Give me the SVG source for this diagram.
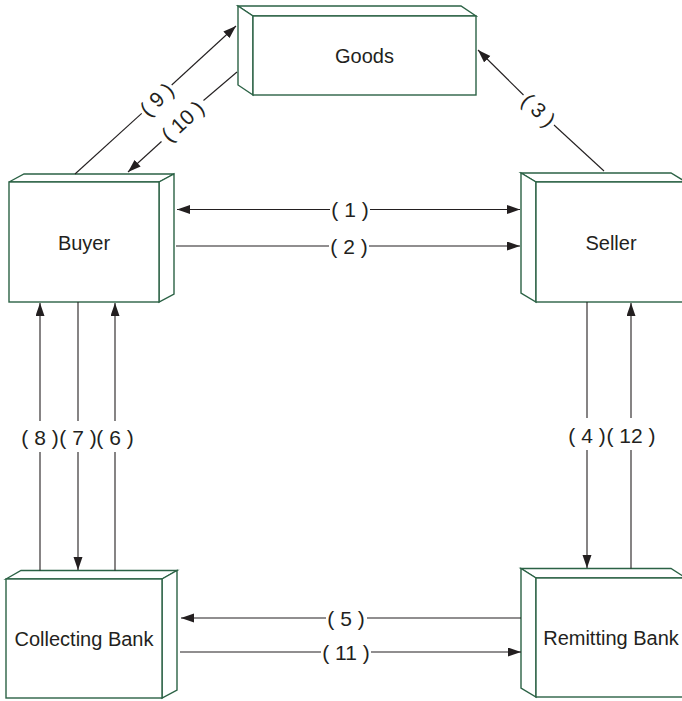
<svg xmlns="http://www.w3.org/2000/svg" width="682" height="701" viewBox="0 0 682 701">
  <defs>
    <marker id="arrow" markerUnits="userSpaceOnUse" markerWidth="14" markerHeight="10" refX="13" refY="4.5" orient="auto-start-reverse">
      <path d="M0,0 L13,4.5 L0,9 z" fill="#231f20"/>
    </marker>
    <style>
      .face { fill: #ffffff; stroke: #2b6245; stroke-width: 1.4; stroke-linejoin: miter; }
      .name { font-family: "Liberation Sans", Arial, sans-serif; font-size: 20px; fill: #231f20; text-anchor: middle; }
      .lbl { font-family: "Liberation Sans", Arial, sans-serif; font-size: 21px; fill: #231f20; text-anchor: middle; }
      .wire { stroke: #231f20; stroke-width: 1.1; fill: none; }
      .head { marker-end: url(#arrow); }
    </style>
  </defs>

  <rect width="682" height="701" fill="#ffffff"/>

  <!-- Boxes drawn as simple 3D slabs -->
  <g id="goods">
    <polygon class="face" points="253,16 238,6 461,6 476,16"/>
    <polygon class="face" points="253,16 238,6 238,85 253,95"/>
    <rect class="face" x="253" y="16" width="223" height="79"/>
    <text class="name" x="364.5" y="62.5">Goods</text>
  </g>

  <g id="buyer">
    <polygon class="face" points="9,182 24,174 174,174 159,182"/>
    <polygon class="face" points="159,182 174,174 174,294 159,302"/>
    <rect class="face" x="9" y="182" width="150" height="120"/>
    <text class="name" x="84" y="249.5">Buyer</text>
  </g>

  <g id="seller">
    <polygon class="face" points="536,182 521,173 671,173 686,182"/>
    <polygon class="face" points="536,182 521,173 521,293 536,302"/>
    <rect class="face" x="536" y="182" width="150" height="120"/>
    <text class="name" x="611" y="249.5">Seller</text>
  </g>

  <g id="collecting-bank">
    <polygon class="face" points="6,579 21,570.5 177,570.5 162,579"/>
    <polygon class="face" points="162,579 177,570.5 177,690 162,698"/>
    <rect class="face" x="6" y="579" width="156" height="119"/>
    <text class="name" x="84" y="646">Collecting Bank</text>
  </g>

  <g id="remitting-bank">
    <polygon class="face" points="536,578 521,568.5 671,568.5 686,578"/>
    <polygon class="face" points="536,578 521,568.5 521,688 536,697"/>
    <rect class="face" x="536" y="578" width="150" height="119"/>
    <text class="name" x="611" y="644.5">Remitting Bank</text>
  </g>

  <!-- Connectors with their step numbers -->
  <g id="connectors">
    <!-- (1) Buyer <-> Seller -->
    <line class="wire" x1="330" y1="209.5" x2="177" y2="209.5" marker-end="url(#arrow)"/>
    <line class="wire head" x1="370" y1="209.5" x2="520" y2="209.5"/>
    <text class="lbl" x="350" y="217">( 1 )</text>

    <!-- (2) Buyer -> Seller -->
    <line class="wire" x1="176" y1="246" x2="329" y2="246"/>
    <line class="wire head" x1="369" y1="246" x2="520" y2="246"/>
    <text class="lbl" x="349" y="253.5">( 2 )</text>

    <!-- (5) Remitting Bank -> Collecting Bank -->
    <line class="wire" x1="521" y1="618" x2="367" y2="618"/>
    <line class="wire head" x1="326" y1="618" x2="181" y2="618"/>
    <text class="lbl" x="346" y="625.5">( 5 )</text>

    <!-- (11) Collecting Bank -> Remitting Bank -->
    <line class="wire" x1="180" y1="652" x2="321" y2="652"/>
    <line class="wire head" x1="371" y1="652" x2="521" y2="652"/>
    <text class="lbl" x="346" y="659.5">( 11 )</text>

    <!-- (8) Collecting Bank -> Buyer -->
    <line class="wire" x1="40" y1="570.5" x2="40" y2="452"/>
    <line class="wire head" x1="40" y1="421" x2="40" y2="303"/>
    <text class="lbl" x="40" y="444.5">( 8 )</text>

    <!-- (7) Buyer -> Collecting Bank -->
    <line class="wire" x1="78" y1="302" x2="78" y2="421"/>
    <line class="wire head" x1="78" y1="452" x2="78" y2="570"/>
    <text class="lbl" x="78" y="444.5">( 7 )</text>

    <!-- (6) Collecting Bank -> Buyer -->
    <line class="wire" x1="115" y1="570.5" x2="115" y2="452"/>
    <line class="wire head" x1="115" y1="421" x2="115" y2="303"/>
    <text class="lbl" x="115" y="444.5">( 6 )</text>

    <!-- (4) Seller -> Remitting Bank -->
    <line class="wire" x1="587" y1="302" x2="587" y2="418"/>
    <line class="wire head" x1="587" y1="450" x2="587" y2="568"/>
    <text class="lbl" x="587" y="443">( 4 )</text>

    <!-- (12) Remitting Bank -> Seller -->
    <line class="wire" x1="631" y1="568.5" x2="631" y2="450"/>
    <line class="wire head" x1="631" y1="418" x2="631" y2="303"/>
    <text class="lbl" x="631" y="443">( 12 )</text>

    <!-- (9) Buyer -> Goods -->
    <line class="wire" x1="75" y1="174" x2="141.7" y2="113.3"/>
    <line class="wire head" x1="171.7" y1="85" x2="236" y2="26"/>
    <text class="lbl" transform="translate(156.7,99.2) rotate(-42.8)" x="0" y="7.5">( 9 )</text>

    <!-- (10) Goods -> Buyer -->
    <line class="wire" x1="237" y1="72" x2="203.5" y2="100.5"/>
    <line class="wire head" x1="161.5" y1="141.5" x2="128" y2="172"/>
    <text class="lbl" transform="translate(182.5,121) rotate(-42.5)" x="0" y="7.5">( 10 )</text>

    <!-- (3) Seller -> Goods -->
    <line class="wire" x1="604" y1="171" x2="554" y2="125"/>
    <line class="wire head" x1="523.5" y1="95" x2="478" y2="50"/>
    <text class="lbl" transform="translate(538.7,110) rotate(43.8)" x="0" y="7.5">( 3 )</text>
  </g>
</svg>
